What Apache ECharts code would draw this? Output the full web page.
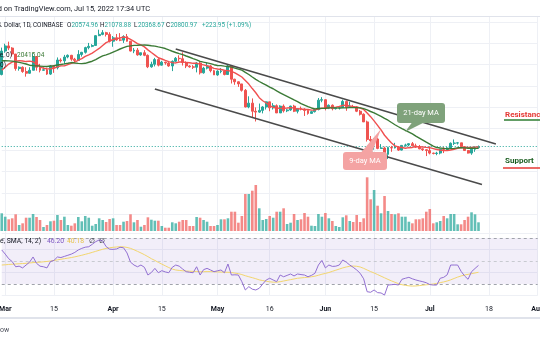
<!DOCTYPE html>
<html><head><meta charset="utf-8">
<script src="https://cdn.jsdelivr.net/npm/echarts@6/dist/echarts.min.js"></script>
<style>html,body{margin:0;padding:0;background:#fff}#c{width:540px;height:340px}</style>
</head><body><div id="c"></div>
<script>
// ---- data (prices in thousand USD) ----
const startDate = [2022, 1, 28]; // 2022-02-28 (month 0-based)
const dayCount = 155;            // categories through 2022-08-01

const closesBefore = [43.8,44.1,44.4,43.6,42.4,42.2,42.1,42.6,44.6,43.9,40.6,40.0,40.1,38.4,37.0,38.3,37.3,38.3,39.2,39.1,37.7];

const opens = [37.7,43.2,44.4,43.9,42.5,39.1,39.4,38.4,38.0,38.7,
41.9,39.4,38.7,38.8,37.8,39.7,39.3,41.1,40.9,41.8,
42.2,41.3,41.0,42.4,42.9,44.0,44.3,44.5,46.8,47.1,
47.5,47.1,45.5,46.3,45.8,45.75,46.6,45.5,43.2,43.4,
42.3,42.8,42.2,39.5,40.1,41.2,39.9,40.6,40.4,39.7,
40.8,41.5,41.4,40.5,39.7,39.5,39.4,40.4,38.1,39.2,
39.7,38.6,37.6,38.4,38.5,37.7,39.7,36.6,36.0,35.5,
34.0,30.1,31.0,29.1,28.9,29.3,30.1,31.3,29.9,30.4,
28.7,30.3,29.2,29.4,30.3,29.1,29.7,29.6,29.3,28.6,
29.0,29.5,31.7,31.8,29.8,30.5,29.7,29.9,29.95,31.4,
30.0,30.2,30.1,29.1,28.4,26.6,22.5,22.2,22.6,20.4,
20.5,19.0,20.6,20.5,20.7,20.0,21.1,21.2,21.5,21.0,
20.7,20.3,20.1,19.9,19.3,19.2,19.3,20.2,20.15,20.5,
21.6,21.65,21.7,20.8,19.9,19.3,20.2,20.57496];
const highs = [44.0,44.9,45.4,44.1,42.5,39.6,39.6,39.4,39.4,42.6,
42.0,40.2,39.4,39.3,39.9,39.9,41.7,41.5,42.3,42.4,
42.3,41.6,43.4,43.0,44.2,45.1,44.8,46.9,48.2,48.1,
47.7,47.6,46.7,47.2,47.4,46.9,47.2,45.5,43.9,43.9,
42.8,43.4,42.4,40.7,41.6,41.5,40.9,40.7,40.6,41.0,
41.8,42.2,42.9,40.8,39.9,39.9,40.6,40.8,39.5,40.4,
39.9,38.8,38.7,39.2,38.6,40.0,39.8,36.7,36.1,35.5,
34.3,32.6,32.1,30.0,30.9,30.3,31.4,31.3,31.0,30.7,
30.5,30.7,29.6,30.4,30.6,29.8,30.2,29.8,29.4,29.2,
29.6,32.2,32.4,31.9,30.7,30.7,29.9,30.2,31.8,31.6,
31.3,30.6,30.3,29.4,28.6,26.9,23.3,22.8,22.9,21.4,
20.8,20.8,21.0,21.7,20.9,21.2,21.5,21.6,21.9,21.5,
21.2,20.4,20.2,20.9,19.4,19.6,20.3,20.7,20.7,21.8,
22.5,21.9,21.7,20.9,20.0,20.3,20.9,21.07888];
const lows = [37.5,42.8,43.4,41.9,38.6,38.6,38.1,37.2,37.9,38.7,
38.6,38.2,38.6,37.6,37.6,38.1,38.9,40.5,40.1,41.5,
40.9,40.5,40.9,41.9,42.6,43.6,44.1,44.4,46.7,46.9,
46.6,45.2,44.2,45.6,45.5,45.1,45.4,43.1,42.7,42.1,
42.1,42.0,39.2,39.3,39.6,39.6,39.8,40.0,39.5,38.5,
40.6,40.8,39.8,39.2,39.3,39.0,38.2,37.7,37.9,38.9,
38.2,37.6,37.4,38.0,37.5,37.7,35.6,35.3,34.8,33.7,
30.0,29.8,27.7,26.7,28.7,28.6,29.5,29.1,29.5,28.7,
28.7,28.8,28.9,29.2,28.9,28.6,29.3,28.0,28.3,28.5,
28.8,29.3,31.2,29.3,29.6,29.3,29.5,29.5,29.9,29.2,
29.9,29.9,28.9,28.1,26.6,22.0,20.8,20.1,20.2,20.3,
17.6,17.9,19.6,20.4,19.8,19.9,20.8,20.9,21.0,20.5,
20.2,19.8,18.6,19.0,19.0,18.8,19.0,19.3,19.8,20.3,
21.2,21.3,20.7,19.9,19.2,18.9,19.6,20.36867];
const closes = [43.2,44.4,43.9,42.5,39.1,39.4,38.4,38.0,38.7,41.9,
39.4,38.7,38.8,37.8,39.7,39.3,41.1,40.9,41.8,42.2,
41.3,41.0,42.4,42.9,44.0,44.3,44.5,46.8,47.1,47.5,
47.1,45.5,46.3,45.8,45.75,46.6,45.5,43.2,43.4,42.3,
42.8,42.2,39.5,40.1,41.2,39.9,40.6,40.4,39.7,40.8,
41.5,41.4,40.5,39.7,39.5,39.4,40.4,38.1,39.2,39.7,
38.6,37.6,38.5,38.5,37.7,39.7,36.6,36.0,35.5,34.0,
30.1,31.0,29.1,28.9,29.3,30.1,31.3,29.9,30.4,28.7,
30.3,29.2,29.4,30.3,29.1,29.7,29.6,29.3,28.6,29.0,
29.5,31.7,31.8,29.8,30.5,29.7,29.9,29.95,31.4,30.0,
30.2,30.1,29.1,28.4,26.6,22.5,22.2,22.6,20.4,20.5,
19.0,20.6,20.5,20.7,20.0,21.1,21.2,21.5,21.0,20.7,
20.3,20.1,19.9,19.3,19.2,19.3,20.2,20.15,20.5,21.6,
21.65,21.7,20.8,19.9,19.3,20.2,20.6,20.80097];
const volumes = [17.7,14.3,11.7,12.7,16.7,6,7.7,13.3,13.3,17,
14,11,4,6,9.7,10.3,16,11,14.3,6,
5.3,7.7,14,9.7,15,13.3,5.3,7,12.7,11,
9,12,12.7,6,6,9.3,10,16.7,8.7,11,
4.3,6,13.7,11.3,10.3,10.3,5,3.3,3.3,8.7,
7.7,9.3,11,11,5,5,14,13.3,11,9.3,
5,5,6,11.7,11.7,12.7,19.3,19.3,8.3,15,
37,37,40.3,46,22.7,11,12,15,13.3,19.3,
19.3,22.7,7,8.3,17,11,11.7,18,14.3,5.3,
5,17,14.3,18,12.7,10,5,4,13.7,15.7,
10,9,16,9,12.7,53.7,31.7,41,25.3,17.7,
35,20,17,16.7,17.7,14.3,14.3,9.3,7.7,11.7,
11.7,12.7,19.3,22,7.7,8.7,10,15,12.7,17,
17,6.7,6.7,11,14.3,18.7,16.7,8.7];
const rsi = [59.6,56,52,49.5,45,45.5,44,46.5,49,53.5,
48,45.5,45,44,49.5,50.5,53.5,53,54,55,
56,57.5,59.6,61,62,62.4,64.5,66.8,68.3,67.5,
62.5,60.3,60.1,60.5,61.9,61.5,57,49,46.5,45,
46.5,44.5,37.8,40,43.6,39.8,41.6,40.5,39.8,44.5,
46.5,45.5,43,40.7,40.2,39.8,45,37.8,42.5,43.6,
42.2,40.7,41.5,42.2,39.8,47.4,37.8,38,37.8,32,
24.8,27.7,25.5,24.8,26.3,30,33.5,35,33.5,32,
37.8,36.3,37.5,38.7,37,38.7,38.2,37.8,36.3,37.5,
39.3,46.5,50.5,44,46.5,45.3,45.5,46.5,50.9,49,
46.5,44.5,42.2,39.3,34.5,23.3,22.8,24.8,22.5,22.2,
20.4,29.1,29.4,29.7,29.1,34.1,35,35.8,34.5,33.5,
32.7,32,31.1,29.5,29.1,29.1,35,35.8,38,46.5,
46.5,46.5,41,37,34.1,40.7,43.5,46.2];
const rsiMA = [46.5,46.7,47,47.2,47.4,47.6,47.8,48,48.3,48.6,
48.8,49,49.3,49.6,50,50.5,51,51.5,52,52.5,
53,53.6,54.3,55,55.8,56.6,57.5,58.4,59.3,60.2,
60.9,61.5,61.9,62.2,62.4,62.3,61.8,61,59.8,58.4,
57,55.5,53.8,52,50.5,48.8,47.3,45.8,44.3,43,
42.2,41.8,41.5,41.3,41.1,41,40.9,40.6,40.7,40.8,
40.8,40.6,40.5,40.4,40.2,40.2,40,39.5,39,38.2,
37.2,36.3,35.5,34.6,33.6,33,32.4,31.9,31.6,31.6,
32,32.6,33.2,33.8,34.4,35,35.3,35.6,35.9,36.3,
36.8,37.6,38.5,39.2,40,41,42,43,44,44.8,
45.4,45.6,45.4,44.8,43.6,42.2,40.8,39.6,38.2,36.8,
35.4,34,32.7,31.5,30.3,29.4,28.8,28.4,28.2,28.3,
28.6,29,29.3,29.6,30,30.5,31.2,31.8,32.6,33.6,
34.8,36,37,37.8,38.4,39,39.6,40.18];
const tickLabels = {'2022-03-01':'Mar','2022-03-15':'15','2022-04-01':'Apr','2022-04-15':'15',
 '2022-05-01':'May','2022-05-16':'16','2022-06-01':'Jun','2022-06-15':'15','2022-07-01':'Jul',
 '2022-07-18':'18','2022-08-01':'Aug'};
const upperChannel = [['2022-04-19', 43.68], ['2022-07-20', 21.43]];
const lowerChannel = [['2022-04-13', 34.31], ['2022-07-16', 11.95]];
const lastPrice = 20.80097;

// ---- build ----
const dates = [];
for (let i = 0; i < dayCount; i++) {
  const d = new Date(Date.UTC(startDate[0], startDate[1], startDate[2] + i));
  dates.push(d.toISOString().slice(0, 10));
}
const allCloses = closesBefore.concat(closes);
function sma(n) {
  return closes.map((_, k) => {
    const p = k + closesBefore.length; let s = 0;
    for (let j = p - n + 1; j <= p; j++) s += allCloses[j];
    return +(s / n).toFixed(4);
  });
}
function channel(pts) {
  const arr = new Array(dayCount).fill(null);
  pts.forEach(([d, v]) => { arr[dates.indexOf(d)] = v; });
  return arr;
}
const FONT = 'Roboto, "Noto Sans", "DejaVu Sans", sans-serif';
const isTick = (i, v) => tickLabels[v] !== undefined;
const UP = '#26a69a', DOWN = '#ef5350';

function txt(x, y, text, fill, size, weight, align) {
  return { type: 'text', x: x, y: y, silent: true, z: 100,
    style: { text: text, fill: fill, font: (weight || 'normal') + ' ' + size + 'px ' + FONT,
      textAlign: align || 'left', textVerticalAlign: 'middle' } };
}
function hline(x1, x2, y, color, w) {
  return { type: 'line', silent: true, z: 100, shape: { x1: x1, y1: y, x2: x2, y2: y },
    style: { stroke: color, lineWidth: w } };
}

const L = 1.74, W = 535.92;
const xBase = { type: 'category', data: dates, boundaryGap: false,
  axisLine: { show: false }, axisTick: { show: false } };

const option = {
  animation: false,
  backgroundColor: '#ffffff',
  grid: [
    { left: L, width: W, top: 16, height: 219.5, outerBoundsMode: 'none', containLabel: false },
    { left: L, width: W, top: 171, height: 60, outerBoundsMode: 'none', containLabel: false },
    { left: L, width: W, top: 233, height: 62.5, outerBoundsMode: 'none', containLabel: false }
  ],
  xAxis: [
    Object.assign({}, xBase, { gridIndex: 0, axisLabel: { show: false },
      splitLine: { show: true, interval: isTick, lineStyle: { color: '#eef0f5', width: 1 } } }),
    Object.assign({}, xBase, { gridIndex: 1, show: false }),
    Object.assign({}, xBase, { gridIndex: 2,
      axisLabel: { show: true, interval: isTick, margin: 10, fontSize: 7, color: '#131722', fontFamily: FONT,
        formatter: v => { const t = tickLabels[v]; return /^\d/.test(t) ? t : '{b|' + t + '}'; },
        rich: { b: { fontWeight: 'bold', fontSize: 7, color: '#131722', fontFamily: FONT } } },
      splitLine: { show: true, interval: isTick, lineStyle: { color: '#eef0f5', width: 1 } } })
  ],
  yAxis: [
    { gridIndex: 0, type: 'value', min: 0, max: 51.405, interval: 5,
      axisLabel: { show: false }, axisLine: { show: false }, axisTick: { show: false },
      splitLine: { show: true, showMinLine: false, lineStyle: { color: '#eef0f5' } } },
    { gridIndex: 1, type: 'value', min: 0, max: 60, show: false, splitLine: { show: false } },
    { gridIndex: 2, type: 'value', min: 20, max: 74.35, interval: 20,
      axisLabel: { show: false }, axisLine: { show: false }, axisTick: { show: false },
      splitLine: { show: true, lineStyle: { color: '#eef0f5' } } }
  ],
  series: [
    { type: 'bar', xAxisIndex: 1, yAxisIndex: 1, barWidth: 2.6, silent: true, z: 1,
      data: volumes.map((v, i) => ({ value: v,
        itemStyle: { color: closes[i] >= opens[i] ? 'rgba(38,166,154,0.72)' : 'rgba(239,83,80,0.68)' } })) },
    { type: 'candlestick', xAxisIndex: 0, yAxisIndex: 0, barWidth: 2.4, clip: false, silent: true, z: 5,
      data: opens.map((o, i) => [o, closes[i], lows[i], highs[i]]),
      itemStyle: { color: UP, color0: DOWN, borderColor: UP, borderColor0: DOWN, borderWidth: 1 },
      markLine: { silent: true, symbol: 'none', label: { show: false },
        lineStyle: { type: [1, 2], color: '#26a69a', width: 1 },
        data: [{ yAxis: lastPrice }] } },
    { type: 'line', xAxisIndex: 0, yAxisIndex: 0, data: sma(9), showSymbol: false, silent: true, z: 6,
      lineStyle: { color: '#f05050', width: 1.4 } },
    { type: 'line', xAxisIndex: 0, yAxisIndex: 0, data: sma(21), showSymbol: false, silent: true, z: 6,
      lineStyle: { color: '#3b7a36', width: 1.4 } },
    { type: 'line', xAxisIndex: 0, yAxisIndex: 0, data: channel(upperChannel), connectNulls: true,
      showSymbol: false, silent: true, z: 7, lineStyle: { color: '#4a4a4a', width: 1.5 } },
    { type: 'line', xAxisIndex: 0, yAxisIndex: 0, data: channel(lowerChannel), connectNulls: true,
      showSymbol: false, silent: true, z: 7, lineStyle: { color: '#4a4a4a', width: 1.5 } },
    { type: 'line', xAxisIndex: 2, yAxisIndex: 2, data: rsi, showSymbol: false, silent: true, clip: false, z: 6,
      lineStyle: { color: '#9270d2', width: 1 },
      markArea: { silent: true, itemStyle: { color: 'rgba(126,87,194,0.1)' }, data: [[{ yAxis: 30 }, { yAxis: 70 }]] },
      markLine: { silent: true, symbol: 'none', label: { show: false },
        data: [
          { yAxis: 70, lineStyle: { type: [3, 3], color: '#a0a3ab', width: 1 } },
          { yAxis: 50, lineStyle: { type: [3, 3], color: '#c8cad0', width: 1 } },
          { yAxis: 30, lineStyle: { type: [3, 3], color: '#a0a3ab', width: 1 } }
        ] } },
    { type: 'line', xAxisIndex: 2, yAxisIndex: 2, data: rsiMA, showSymbol: false, silent: true, clip: false, z: 5,
      lineStyle: { color: '#f2d66e', width: 1 } }
  ],
  graphic: [
    hline(0, 540, 16.5, '#e0e3eb', 1),
    hline(0, 540, 318, '#e0e3eb', 2),
    txt(150, 9, 'Published on TradingView.com, Jul 15, 2022 17:34 UTC', '#131722', 7.4, 'normal', 'right'),
    txt(63, 25, 'Bitcoin / U.S. Dollar, 1D, COINBASE', '#131722', 6.3, 'normal', 'right'),
    txt(67, 25, 'O', '#131722', 6.3), txt(71.5, 25, '20574.96', UP, 6.3),
    txt(100, 25, 'H', '#131722', 6.3), txt(104.5, 25, '21078.88', UP, 6.3),
    txt(134, 25, 'L', '#131722', 6.3), txt(138, 25, '20368.67', UP, 6.3),
    txt(166, 25, 'C', '#131722', 6.3), txt(170.5, 25, '20800.97', UP, 6.3),
    txt(202, 25, '+223.95 (+1.09%)', UP, 6.3),
    txt(12, 55, 'MA (21, close, 0)', '#131722', 6.5, 'normal', 'right'),
    txt(17, 55, '20415.04', '#3b7a36', 6.5),
    txt(6, 65, 'MA (9, close, 0)', '#131722', 6.5, 'normal', 'right'),
    txt(41, 241, 'RSI (14, close, SMA, 14, 2)', '#131722', 6.8, 'normal', 'right'),
    txt(47, 241, '46.20', '#7e57c2', 6.8), txt(67, 241, '40.18', '#e8c44a', 6.8),
    txt(89, 241, '\u2205', '#131722', 6.8), txt(99, 241, '\u2205', '#131722', 6.8),
    txt(0, 330, 'ow', '#50535e', 7),
    // annotations
    { type: 'rect', silent: true, z: 90, shape: { x: 397, y: 103, width: 48, height: 20, r: 3 }, style: { fill: '#7fa27b' } },
    { type: 'polygon', silent: true, z: 90, shape: { points: [[412, 122.5], [424, 122.5], [405, 132]] }, style: { fill: '#7fa27b' } },
    txt(421, 113, '21-day MA', '#ffffff', 7.5, 'normal', 'center'),
    { type: 'rect', silent: true, z: 90, shape: { x: 343, y: 152, width: 44, height: 18, r: 3 }, style: { fill: '#f4a3a3' } },
    { type: 'polygon', silent: true, z: 90, shape: { points: [[361, 152.5], [372, 152.5], [381, 129]] }, style: { fill: '#f4a3a3' } },
    txt(365, 161, '9-day MA', '#ffffff', 7.5, 'normal', 'center'),
    txt(505, 115, 'Resistance', '#e53935', 8, 'bold'),
    hline(504, 540, 120, '#2e7d32', 1.5),
    txt(505, 161, 'Support', '#1b5e20', 8, 'bold'),
    hline(503, 540, 168, '#e53935', 1.5)
  ]
};
const chart = echarts.init(document.getElementById('c'));
chart.setOption(option);
</script>
</body></html>
